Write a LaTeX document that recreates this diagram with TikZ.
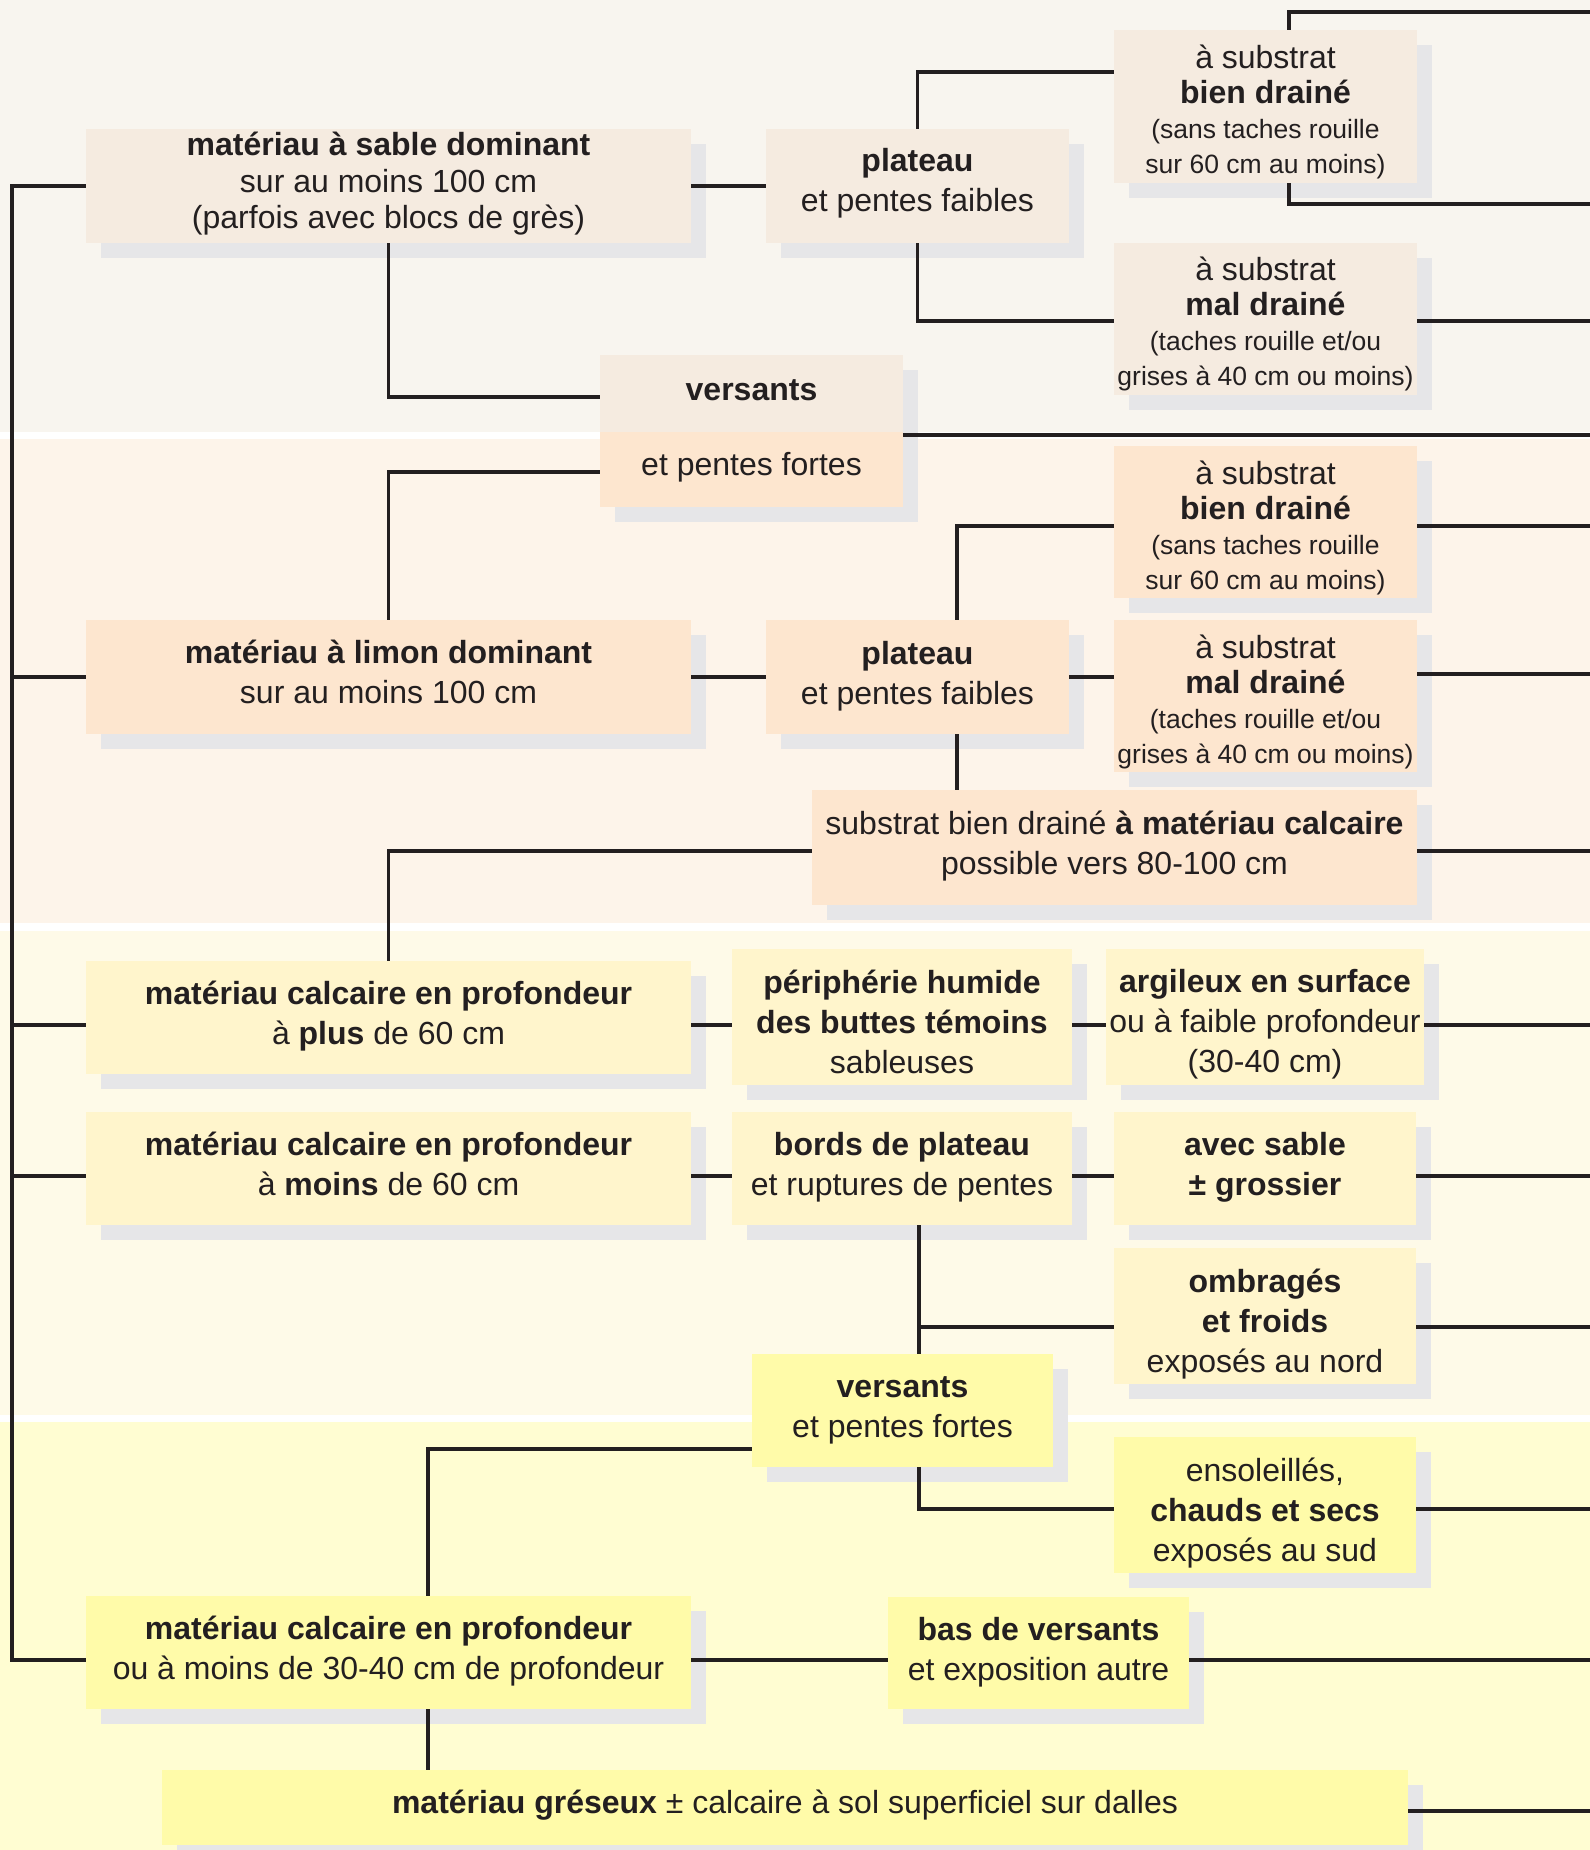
\documentclass[tikz,border=0pt]{standalone}
\usepackage{fontspec}
\setmainfont{Liberation Sans}
\usetikzlibrary{calc}
\definecolor{bAbg}{HTML}{F8F5EF}
\definecolor{bAbox}{HTML}{F5EBE0}
\definecolor{bBbg}{HTML}{FDF4EA}
\definecolor{bBbox}{HTML}{FDE6CF}
\definecolor{bCbg}{HTML}{FEFAE8}
\definecolor{bCbox}{HTML}{FFF5CC}
\definecolor{bDbg}{HTML}{FFFDD2}
\definecolor{bDbox}{HTML}{FFFBA9}
\definecolor{shadowc}{HTML}{E6E6E8}
\definecolor{linec}{HTML}{231F20}
\definecolor{textc}{HTML}{231F20}
\pgfdeclarelayer{back}
\pgfdeclarelayer{shad}
\pgfdeclarelayer{lines}
\pgfsetlayers{back,shad,lines,main}
\newcommand{\smtxt}[1]{{\fontsize{26.5}{35}\selectfont #1}}
% \bx[font opts]{name}{x1}{y1}{x2}{y2}{fill}{text shift}{text}
\newcommand{\bx}[9][]{%
  \begin{pgfonlayer}{shad}\fill[shadowc] (#3+15,#4+15) rectangle (#5+15,#6+15);\end{pgfonlayer}
  \node[boxfill,fill=#7,minimum width={(#5)-(#3)},minimum height={(#6)-(#4)}] (#2) at ({(#3+#5)/2},{(#4+#6)/2}) {};
  \node[boxs,#1] (#2-t) at ($(#2.center)+(0,#8)$) {#9};}
\tikzset{
  boxfill/.style={rectangle,inner sep=0pt,draw=none},
  boxs/.style={rectangle,inner sep=0pt,align=center,text=textc,font=\fontsize{32}{40}\selectfont},
  conn/.style={draw=linec,line width=3.2pt,line join=miter}
}
\begin{document}
\begin{tikzpicture}[x=1pt,y=-1pt]
\useasboundingbox (0,0) rectangle (1590,1850);
\begin{pgfonlayer}{back}
\fill[bAbg] (0,0) rectangle (1590,432);
\fill[bBbg] (0,439) rectangle (1590,923);
\fill[bCbg] (0,931) rectangle (1590,1415);
\fill[bDbg] (0,1422) rectangle (1590,1850);
\end{pgfonlayer}
% band 1
\bx[font=\fontsize{32}{36.5}\selectfont]{sable}{86}{129}{691}{243}{bAbox}{-2.4}{\textbf{matériau à sable dominant}\\sur au moins 100 cm\\(parfois avec blocs de grès)}
\bx{platA}{766}{129}{1069}{243}{bAbox}{-2.4}{\textbf{plateau}\\et pentes faibles}
\bx[font=\fontsize{32}{35}\selectfont]{bienA}{1114}{30}{1417}{183}{bAbox}{5}{à substrat\\\textbf{bien drainé}\\\smtxt{(sans taches rouille}\\\smtxt{sur 60 cm au moins)}}
\bx[font=\fontsize{32}{35}\selectfont]{malA}{1114}{243}{1417}{395}{bAbox}{4.7}{à substrat\\\textbf{mal drainé}\\\smtxt{(taches rouille et/ou}\\\smtxt{grises à 40 cm ou moins)}}
\bx{versA}{600}{355}{903}{432}{bAbox}{-3.5}{\textbf{versants}}
\bx{versB}{600}{432}{903}{507}{bBbox}{-2.4}{et pentes fortes}
% band 2
\bx{limon}{86}{620}{691}{734}{bBbox}{-4.7}{\textbf{matériau à limon dominant}\\sur au moins 100 cm}
\bx{platB}{766}{620}{1069}{734}{bBbox}{-1.2}{\textbf{plateau}\\et pentes faibles}
\bx[font=\fontsize{32}{35}\selectfont]{bienB}{1114}{446}{1417}{598}{bBbox}{5.9}{à substrat\\\textbf{bien drainé}\\\smtxt{(sans taches rouille}\\\smtxt{sur 60 cm au moins)}}
\bx[font=\fontsize{32}{35}\selectfont]{malB}{1114}{620}{1417}{772}{bBbox}{6}{à substrat\\\textbf{mal drainé}\\\smtxt{(taches rouille et/ou}\\\smtxt{grises à 40 cm ou moins)}}
\bx{subcalc}{812}{790}{1417}{905}{bBbox}{-1.2}{substrat bien drainé \textbf{à matériau calcaire}\\possible vers 80-100 cm}
% band 3
\bx{calcA}{86}{961}{691}{1074}{bCbox}{-1.8}{\textbf{matériau calcaire en profondeur}\\à \textbf{plus} de 60 cm}
\bx{periph}{732}{949}{1072}{1085}{bCbox}{4.7}{\textbf{périphérie humide}\\\textbf{des buttes témoins}\\sableuses}
\bx{argil}{1106}{949}{1424}{1085}{bCbox}{7.6}{\textbf{argileux en surface}\\ou à faible profondeur\\(30-40 cm)}
\bx{calcB}{86}{1112}{691}{1225}{bCbox}{-4.7}{\textbf{matériau calcaire en profondeur}\\à \textbf{moins} de 60 cm}
\bx{bords}{732}{1112}{1072}{1225}{bCbox}{-1.2}{\textbf{bords de plateau}\\et ruptures de pentes}
\bx{avec}{1114}{1112}{1416}{1225}{bCbox}{-1.2}{\textbf{avec sable}\\\textbf{± grossier}}
\bx{ombr}{1114}{1248}{1416}{1384}{bCbox}{8}{\textbf{ombragés}\\\textbf{et froids}\\exposés au nord}
% band 4
\bx{versC}{752}{1354}{1053}{1467}{bDbox}{0}{\textbf{versants}\\et pentes fortes}
\bx{ensol}{1114}{1437}{1416}{1573}{bDbox}{7.6}{ensoleillés,\\\textbf{chauds et secs}\\exposés au sud}
\bx{calcC}{86}{1596}{691}{1709}{bDbox}{-1.2}{\textbf{matériau calcaire en profondeur}\\ou à moins de 30-40 cm de profondeur}
\bx{bas}{888}{1597}{1189}{1709}{bDbox}{-1.2}{\textbf{bas de versants}\\et exposition autre}
\bx{gres}{162}{1770}{1408}{1845}{bDbox}{-2.4}{\textbf{matériau gréseux} ± calcaire à sol superficiel sur dalles}
% coordinates
\coordinate (T) at (12,0);
\coordinate (E) at (1590,0);
\coordinate (Xa) at (1289,0);
\coordinate (Xb) at (957,0);
\coordinate (Xc) at (919,0);
\coordinate (Xd) at (428,0);
\coordinate (Ya) at (0,12);
\coordinate (Yb) at (0,204);
\coordinate (Yc) at (0,72);
\coordinate (Yd) at (0,321);
\coordinate (Ye) at (0,435);
\coordinate (Yf) at (0,526);
\coordinate (Yg) at (0,674);
\coordinate (Yh) at (0,851);
\coordinate (Yi) at (0,1025);
\coordinate (Yj) at (0,1176);
\coordinate (Yk) at (0,1327);
\coordinate (Yl) at (0,1509);
\coordinate (Ym) at (0,1449);
\coordinate (Yn) at (0,1660);
\coordinate (Yo) at (0,1811);
\coordinate (Yp) at (0,397);
\coordinate (Yq) at (0,472);
\begin{pgfonlayer}{lines}
% trunk
\draw[conn] (sable.west) -- (sable.west -| T) -- (T |- Yn) -- (calcC.west |- Yn);
\draw[conn] (T |- limon.west) -- (limon.west);
\draw[conn] (T |- Yi) -- (calcA.west |- Yi);
\draw[conn] (T |- Yj) -- (calcB.west |- Yj);
% band 1
\draw[conn] (sable.east) -- (platA.west);
\draw[conn] (sable.south) |- (versA.west |- Yp);
\draw[conn] (versB.west |- Yq) -| (limon.north);
\draw[conn] (versA.east |- Ye) -- (E |- Ye);
\draw[conn] (platA.north) |- (bienA.west |- Yc);
\draw[conn] (platA.south) |- (malA.west |- Yd);
\draw[conn] (E |- Ya) -| (bienA.north -| Xa);
\draw[conn] (bienA.south -| Xa) |- (E |- Yb);
\draw[conn] (malA.east |- Yd) -- (E |- Yd);
% band 2
\draw[conn] (limon.east) -- (platB.west);
\draw[conn] (platB.north -| Xb) |- (bienB.west |- Yf);
\draw[conn] (platB.south -| Xb) -- (subcalc.north -| Xb);
\draw[conn] (platB.east) -- (platB.east -| malB.west);
\draw[conn] (bienB.east |- Yf) -- (E |- Yf);
\draw[conn] (malB.east |- Yg) -- (E |- Yg);
\draw[conn] (subcalc.east |- Yh) -- (E |- Yh);
\draw[conn] (subcalc.west |- Yh) -| (calcA.north);
% band 3
\draw[conn] (calcA.east |- Yi) -- (periph.west |- Yi);
\draw[conn] (periph.east |- Yi) -- (argil.west |- Yi);
\draw[conn] (argil.east |- Yi) -- (E |- Yi);
\draw[conn] (calcB.east |- Yj) -- (bords.west |- Yj);
\draw[conn] (bords.east |- Yj) -- (avec.west |- Yj);
\draw[conn] (avec.east |- Yj) -- (E |- Yj);
\draw[conn] (bords.south -| Xc) -- (versC.north -| Xc);
\draw[conn] (Xc |- Yk) -- (ombr.west |- Yk);
\draw[conn] (ombr.east |- Yk) -- (E |- Yk);
% band 4
\draw[conn] (versC.south -| Xc) |- (ensol.west |- Yl);
\draw[conn] (ensol.east |- Yl) -- (E |- Yl);
\draw[conn] (versC.west |- Ym) -| (calcC.north -| Xd);
\draw[conn] (calcC.east |- Yn) -- (bas.west |- Yn);
\draw[conn] (bas.east |- Yn) -- (E |- Yn);
\draw[conn] (calcC.south -| Xd) -- (gres.north -| Xd);
\draw[conn] (gres.east |- Yo) -- (E |- Yo);
\end{pgfonlayer}
\end{tikzpicture}
\end{document}
